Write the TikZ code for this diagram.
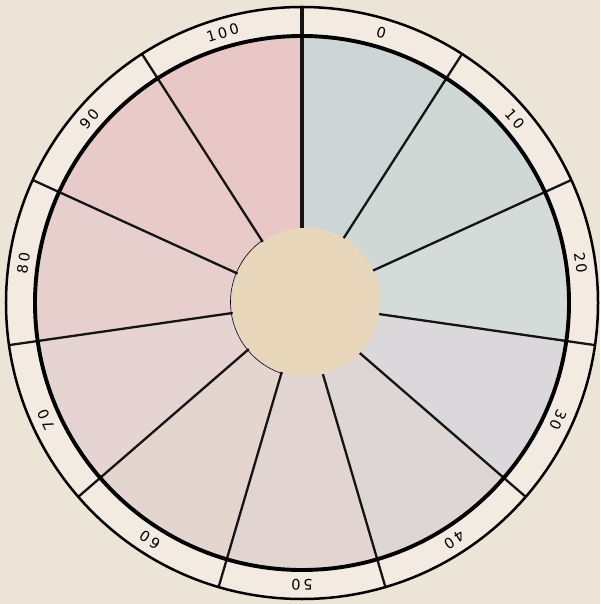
\documentclass[tikz,border=0pt]{standalone}
\usepackage{fontspec}
\newfontfamily\labfont[LetterSpace=18]{DejaVu Sans}
\definecolor{bgc}{RGB}{237,228,216}
\definecolor{ringc}{RGB}{243,235,226}
\definecolor{diskc}{RGB}{233,215,187}
\definecolor{s0}{RGB}{205,214,213}
\definecolor{s1}{RGB}{208,216,214}
\definecolor{s2}{RGB}{213,219,217}
\definecolor{s3}{RGB}{218,216,218}
\definecolor{s4}{RGB}{222,213,213}
\definecolor{s5}{RGB}{226,213,209}
\definecolor{s6}{RGB}{229,213,207}
\definecolor{s7}{RGB}{229,212,209}
\definecolor{s8}{RGB}{231,207,205}
\definecolor{s9}{RGB}{232,202,201}
\definecolor{s10}{RGB}{233,199,199}
\tikzset{
  divider/.style={line width=2.3pt, draw=black!92},
  topdivider/.style={line width=3.8pt, draw=black!92},
  lab/.style={font=\labfont\fontsize{14.5}{14.5}\selectfont, inner sep=0pt},
}
\begin{document}
\begin{tikzpicture}[x=1pt,y=1pt]
\useasboundingbox (-302,-301) rectangle (298,303);
\fill[bgc] (-302,-301) rectangle (298,303);
\coordinate (c) at (0,0);
\coordinate (dc) at (4,1);
\fill[ringc] (c) circle (296);
% sectors
\foreach \k in {0,...,10}{
  \pgfmathsetmacro{\sa}{90-\k*360/11}
  \pgfmathsetmacro{\ea}{90-(\k+1)*360/11}
  \fill[s\k] (c) -- (\sa:267) arc[start angle=\sa, end angle=\ea, radius=267] -- cycle;
}
% dividers
\foreach \k in {0,...,10}{
  \pgfmathsetmacro{\ba}{90-\k*360/11}
  \coordinate (o\k) at (\ba:296);
}
\draw[topdivider] (c) -- (o0);
\foreach \k in {1,...,10}{
  \draw[divider] (c) -- (o\k);
}
% central disk
\fill[diskc] (dc) circle (74);
\draw[line width=0.6pt] ([shift={(4,1)}]125:75.5) arc[start angle=125, end angle=252, radius=75.5];
% circles
\draw[line width=3.9pt] (c) circle (267);
\draw[line width=2.5pt] (c) circle (296);
% labels
\foreach \k/\t in {0/0,1/10,2/20,3/30,4/40,5/50,6/60,7/70,8/80,9/90,10/100}{
  \pgfmathsetmacro{\ma}{90-(\k+0.5)*360/11}
  \node[lab, rotate=\ma-90] (l\k) at (\ma:281.5) {\t};
}
\end{tikzpicture}
\end{document}
